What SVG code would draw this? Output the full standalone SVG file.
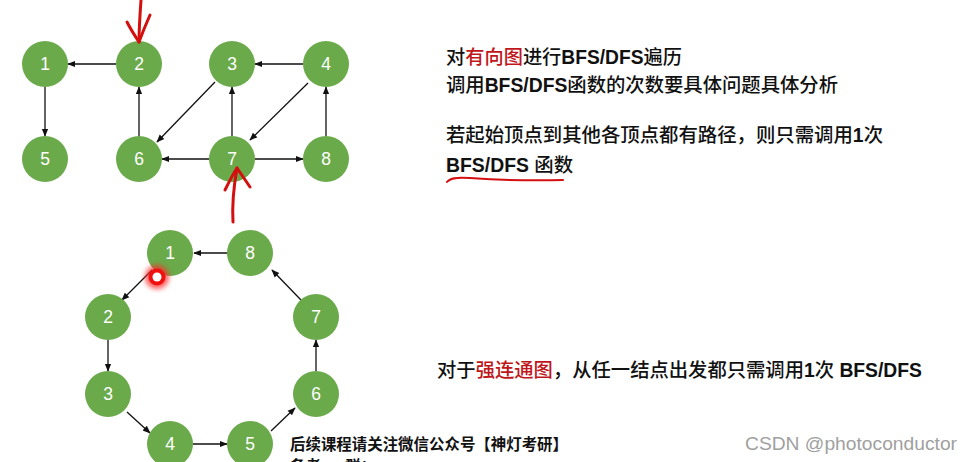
<svg xmlns="http://www.w3.org/2000/svg" width="970" height="462" viewBox="0 0 970 462">
<defs>
<style>
.node circle{fill:#6aaa4b}
.node text{fill:#fff;font-family:"Liberation Sans",Arial,sans-serif;font-size:17.5px;text-anchor:middle}
.edge{stroke:#111;stroke-width:1.3;fill:none;marker-end:url(#ah)}
.t{font-family:"Liberation Sans","Noto Sans CJK SC",sans-serif;font-size:19.4px;fill:#111;font-weight:500}
.b{font-weight:bold}
.red{fill:#c0161b}
.ink{stroke:#d40f0f;fill:none;stroke-linecap:round;stroke-linejoin:round}
</style>
<marker id="ah" viewBox="0 0 10 10" refX="9" refY="5" markerWidth="8" markerHeight="8" markerUnits="userSpaceOnUse" orient="auto">
<path d="M0,1 L10,5 L0,9 z" fill="#111"/>
</marker>
<filter id="blur" x="-1" y="-1" width="3" height="3"><feGaussianBlur stdDeviation="2.5"/></filter>
</defs>
<rect width="970" height="462" fill="#fff"/>

<g id="edges">
<line class="edge" x1="116" y1="64" x2="68" y2="64"/>
<line class="edge" x1="45" y1="87" x2="45" y2="136"/>
<line class="edge" x1="139" y1="136" x2="139" y2="87"/>
<line class="edge" x1="215" y1="82" x2="157" y2="142"/>
<line class="edge" x1="232" y1="136" x2="232" y2="87"/>
<line class="edge" x1="303" y1="64" x2="255" y2="64"/>
<line class="edge" x1="308" y1="83" x2="250" y2="140"/>
<line class="edge" x1="209" y1="159" x2="162" y2="159"/>
<line class="edge" x1="255" y1="159" x2="303" y2="159"/>
<line class="edge" x1="326" y1="136" x2="326" y2="87"/>

<line class="edge" x1="227" y1="253" x2="194" y2="253"/>
<line class="edge" x1="152" y1="270" x2="122" y2="300"/>
<line class="edge" x1="108" y1="340" x2="108" y2="371"/>
<line class="edge" x1="127" y1="412" x2="150" y2="433"/>
<line class="edge" x1="193" y1="444" x2="227" y2="444"/>
<line class="edge" x1="271" y1="431" x2="295" y2="408"/>
<line class="edge" x1="316" y1="371" x2="316" y2="340"/>
<line class="edge" x1="301" y1="300" x2="272" y2="270"/>
</g>

<g id="n1"><g class="node"><circle cx="45" cy="64" r="23"/><text x="45" y="70">1</text></g></g>
<g id="n2"><g class="node"><circle cx="139" cy="64" r="23"/><text x="139" y="70">2</text></g></g>
<g id="n3"><g class="node"><circle cx="232" cy="64" r="23"/><text x="232" y="70">3</text></g></g>
<g id="n4"><g class="node"><circle cx="326" cy="64" r="23"/><text x="326" y="70">4</text></g></g>
<g id="n5"><g class="node"><circle cx="45" cy="159" r="23"/><text x="45" y="165">5</text></g></g>
<g id="n6"><g class="node"><circle cx="139" cy="159" r="23"/><text x="139" y="165">6</text></g></g>
<g id="n7"><g class="node"><circle cx="232" cy="159" r="23"/><text x="232" y="165">7</text></g></g>
<g id="n8"><g class="node"><circle cx="326" cy="159" r="23"/><text x="326" y="165">8</text></g></g>

<g id="m1"><g class="node"><circle cx="170" cy="253" r="23"/><text x="170" y="259">1</text></g></g>
<g id="m8"><g class="node"><circle cx="250" cy="253" r="23"/><text x="250" y="259">8</text></g></g>
<g id="m2"><g class="node"><circle cx="108" cy="317" r="23"/><text x="108" y="323">2</text></g></g>
<g id="m7"><g class="node"><circle cx="316" cy="317" r="23"/><text x="316" y="323">7</text></g></g>
<g id="m3"><g class="node"><circle cx="108" cy="394" r="23"/><text x="108" y="400">3</text></g></g>
<g id="m6"><g class="node"><circle cx="316" cy="394" r="23"/><text x="316" y="400">6</text></g></g>
<g id="m4"><g class="node"><circle cx="170" cy="444" r="23"/><text x="170" y="450">4</text></g></g>
<g id="m5"><g class="node"><circle cx="250" cy="444" r="23"/><text x="250" y="450">5</text></g></g>

<g id="cursor">
<circle cx="157" cy="277" r="12" fill="#ff2a2a" opacity="0.75" filter="url(#blur)"/>
<circle cx="157" cy="277" r="8.5" fill="#f01010"/>
<circle cx="157" cy="277" r="4.5" fill="#fff"/>
</g>

<g id="ink">
<path class="ink" stroke-width="3" d="M141,0 C140,14 139,28 139,42"/>
<path class="ink" stroke-width="3" d="M127,22 C131,30 135,36 139,42 C142,34 146,24 150,15"/>
<path class="ink" stroke-width="3" d="M233,222 C232,205 234,185 237,168"/>
<path class="ink" stroke-width="3" d="M225,190 C229,182 233,174 237,168 C241,174 246,181 250,187"/>
<path class="ink" stroke-width="2" d="M447,182 C450,178 456,177 470,178 C500,180 530,181 563,180"/>
</g>

<g id="text">
<text class="t" x="446" y="64" textLength="236" lengthAdjust="spacingAndGlyphs">对<tspan class="red">有向图</tspan>进行<tspan class="b">BFS/DFS</tspan>遍历</text>
<text class="t" x="446" y="92" textLength="392" lengthAdjust="spacingAndGlyphs">调用<tspan class="b">BFS/DFS</tspan>函数的次数要具体问题具体分析</text>
<text class="t" x="446" y="142" textLength="437" lengthAdjust="spacingAndGlyphs">若起始顶点到其他各顶点都有路径，则只需调用<tspan class="b">1</tspan>次</text>
<text class="t" x="446" y="172"><tspan class="b">BFS/DFS</tspan> 函数</text>
<text class="t" x="437" y="377" textLength="485" lengthAdjust="spacingAndGlyphs">对于<tspan class="red">强连通图</tspan>，从任一结点出发都只需调用<tspan class="b">1</tspan>次 <tspan class="b">BFS/DFS</tspan></text>
<text class="t b" x="290" y="450" style="font-size:15.5px" textLength="278" lengthAdjust="spacingAndGlyphs">后续课程请关注微信公众号【神灯考研】</text>
<text class="t b" x="290" y="472" style="font-size:15.5px">备考QQ群：611174334</text>
<text x="745" y="450" style="font-family:'Liberation Sans',Arial,sans-serif;font-size:19px;fill:#a0a0a0" textLength="212" lengthAdjust="spacingAndGlyphs">CSDN @photoconductor</text>
</g>
</svg>
